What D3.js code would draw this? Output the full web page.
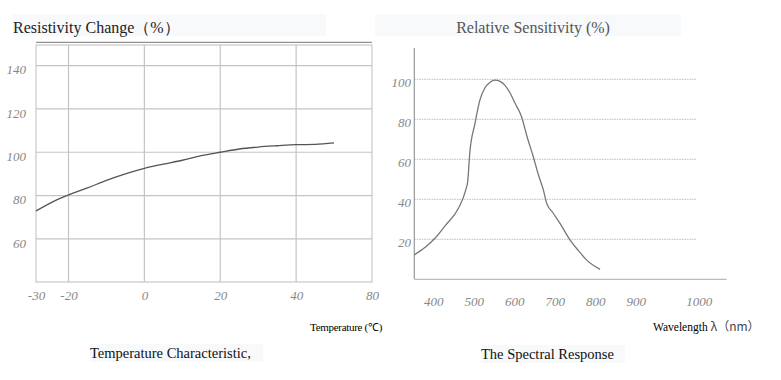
<!DOCTYPE html>
<html><head><meta charset="utf-8">
<script src="https://cdn.jsdelivr.net/npm/d3@7"></script>
<style>body{margin:0;background:#fff}svg{display:block}</style>
</head><body>
<svg id="c" width="781" height="380"></svg>
<script>
// ---- Left chart data: Temperature Characteristic ----
const tempC = [-30, -25, -20, -15, -10, -5, 0, 5, 10, 15, 20, 25, 30, 35, 40, 45, 50];
const resistivity = [72.9, 77, 80.3, 83.5, 87, 90, 92.6, 94.5, 96.3, 98.4, 100, 101.5, 102.4, 103, 103.5, 103.6, 104.3];
const tempTickPos = [-30, -20, 0, 20, 40, 60];
const tempTickLabels = ["-30", "-20", "0", "20", "40", "80"];
const tempGrid = [-20, 0, 20, 40];
const resTicks = [60, 80, 100, 120, 140];

// ---- Right chart data: Spectral Response ----
const wavelength = [353, 380, 404, 430, 462, 480, 485, 490, 503, 515, 527, 540, 552, 565, 577, 590, 602, 618, 632, 647, 660, 672, 680, 695, 713, 738, 760, 779, 795, 812];
const sensitivity = [12.2, 16, 20.5, 27, 35.5, 44.6, 49, 63, 78, 89.6, 95.5, 98.5, 99.6, 99, 97, 93, 88, 81.3, 71, 61.3, 52, 44.6, 38, 33.4, 28, 19.6, 14, 9.6, 7, 5];
const waveTickPos = [400, 500, 600, 700, 800, 900, 1056];
const waveTickLabels = ["400", "500", "600", "700", "800", "900", "1000"];
const sensTicks = [20, 40, 60, 80, 100];

const svg = d3.select("#c");
const serif = "'Liberation Serif','Times New Roman',serif";

// ================= Left chart =================
const L = {x0: 36, x1: 372, y0: 45, y1: 282};
const xL = d3.scaleLinear().domain([-30, -20, 60]).range([L.x0, 68.5, L.x1]);
const yL = d3.scaleLinear().domain([40.1, 149.5]).range([L.y1, L.y0]);

svg.append("rect").attr("x", 13).attr("y", 14).attr("width", 313).attr("height", 22).attr("fill", "#f8f9fb");
svg.append("text").attr("x", 13).attr("y", 33).attr("font-family", serif).attr("font-size", 16).attr("fill", "#222")
  .text("Resistivity Change（%）");

const gL = svg.append("g");
gL.selectAll("line.vg").data(tempGrid).join("line")
  .attr("x1", d => xL(d)).attr("x2", d => xL(d)).attr("y1", L.y0).attr("y2", L.y1)
  .attr("stroke", "#c4c4c4").attr("stroke-width", 1.2);
gL.selectAll("line.hg").data(resTicks).join("line")
  .attr("x1", L.x0).attr("x2", L.x1).attr("y1", d => yL(d)).attr("y2", d => yL(d))
  .attr("stroke", "#c4c4c4").attr("stroke-width", 1.2);
gL.append("rect").attr("x", L.x0).attr("y", L.y0).attr("width", L.x1 - L.x0).attr("height", L.y1 - L.y0)
  .attr("fill", "none").attr("stroke", "#c8c8c8").attr("stroke-width", 1.2);
gL.append("line").attr("x1", L.x0).attr("x2", L.x1).attr("y1", 42.3).attr("y2", 42.3).attr("stroke", "#777").attr("stroke-width", 1);

const axBL = d3.axisBottom(xL).tickValues(tempTickPos).tickFormat((d, i) => tempTickLabels[i]).tickSize(0).tickPadding(0);
const gax = gL.append("g").attr("transform", `translate(0,${L.y1 + 18})`).call(axBL);
gax.select(".domain").remove();
gax.selectAll("text").attr("font-family", serif).attr("font-style", "italic").attr("font-size", 13).attr("fill", "#888").attr("dy", 0);
const axLL = d3.axisLeft(yL).tickValues(resTicks).tickFormat(d => String(d)).tickSize(0).tickPadding(0);
const gay = gL.append("g").attr("transform", `translate(26,4)`).call(axLL);
gay.select(".domain").remove();
gay.selectAll("text").attr("font-family", serif).attr("font-style", "italic").attr("font-size", 13).attr("fill", "#888");

gL.append("path").datum(tempC.map((t, i) => [t, resistivity[i]]))
  .attr("d", d3.line().x(d => xL(d[0])).y(d => yL(d[1])).curve(d3.curveMonotoneX))
  .attr("fill", "none").attr("stroke", "#555").attr("stroke-width", 1.3);

svg.append("text").attr("x", 310).attr("y", 331).attr("font-family", serif).attr("font-size", 11).attr("fill", "#000")
  .attr("letter-spacing", -0.3).text("Temperature (℃)");
svg.append("rect").attr("x", 90).attr("y", 344).attr("width", 173).attr("height", 18).attr("fill", "#f8f9fb");
svg.append("text").attr("x", 90).attr("y", 358).attr("font-family", serif).attr("font-size", 14.5).attr("fill", "#111")
  .text("Temperature Characteristic,");

// ================= Right chart =================
const R = {x0: 414.3, x1: 726.7, y0: 48, y1: 279.3, gridEnd: 696};
const xR = d3.scaleLinear().domain([353, 900]).range([R.x0, 635.7]);
const yR = d3.scaleLinear().domain([0, (R.y1 - R.y0) / 2]).range([R.y1, R.y0]);

svg.append("rect").attr("x", 375).attr("y", 14).attr("width", 306).attr("height", 22).attr("fill", "#f8f9fb");
svg.append("text").attr("x", 533).attr("y", 33).attr("text-anchor", "middle").attr("font-family", serif).attr("font-size", 16).attr("fill", "#555")
  .text("Relative Sensitivity (%)");

const gR = svg.append("g");
gR.selectAll("line.hg").data(sensTicks).join("line")
  .attr("x1", R.x0).attr("x2", R.gridEnd).attr("y1", d => yR(d)).attr("y2", d => yR(d))
  .attr("stroke", "#bbb").attr("stroke-width", 1).attr("stroke-dasharray", "1.5,1");
gR.append("line").attr("x1", R.x0).attr("x2", R.x0).attr("y1", R.y0).attr("y2", R.y1).attr("stroke", "#999").attr("stroke-width", 1.2);
gR.append("line").attr("x1", R.x0).attr("x2", R.x1).attr("y1", R.y1).attr("y2", R.y1).attr("stroke", "#bbb").attr("stroke-width", 1.2);

const axBR = d3.axisBottom(xR).tickValues(waveTickPos).tickFormat((d, i) => waveTickLabels[i]).tickSize(0).tickPadding(0);
const gbx = gR.append("g").attr("transform", `translate(0,${R.y1 + 17})`).call(axBR);
gbx.select(".domain").remove();
gbx.selectAll("text").attr("font-family", serif).attr("font-style", "italic").attr("font-size", 13).attr("fill", "#888");
const axLR = d3.axisLeft(yR).tickValues(sensTicks).tickFormat(d => String(d)).tickSize(0).tickPadding(0);
const gby = gR.append("g").attr("transform", `translate(411,3)`).call(axLR);
gby.select(".domain").remove();
gby.selectAll("text").attr("font-family", serif).attr("font-style", "italic").attr("font-size", 13).attr("fill", "#888");

gR.append("path").datum(wavelength.map((w, i) => [w, sensitivity[i]]))
  .attr("d", d3.line().x(d => xR(d[0])).y(d => yR(d[1])).curve(d3.curveMonotoneX))
  .attr("fill", "none").attr("stroke", "#777").attr("stroke-width", 1.3);

const wl = svg.append("text").attr("x", 653).attr("y", 331).attr("font-size", 12).attr("fill", "#000");
wl.append("tspan").attr("font-family", serif).attr("font-size", 11.5).text("Wavelength ");
wl.append("tspan").attr("font-family", "'Noto Sans CJK SC',sans-serif").attr("font-size", 12).attr("fill", "#444").text("λ（nm）");

svg.append("rect").attr("x", 481).attr("y", 345).attr("width", 144).attr("height", 18).attr("fill", "#f8f9fb");
svg.append("text").attr("x", 481).attr("y", 359).attr("font-family", serif).attr("font-size", 14.5).attr("fill", "#111")
  .text("The Spectral Response");
</script>
</body></html>
